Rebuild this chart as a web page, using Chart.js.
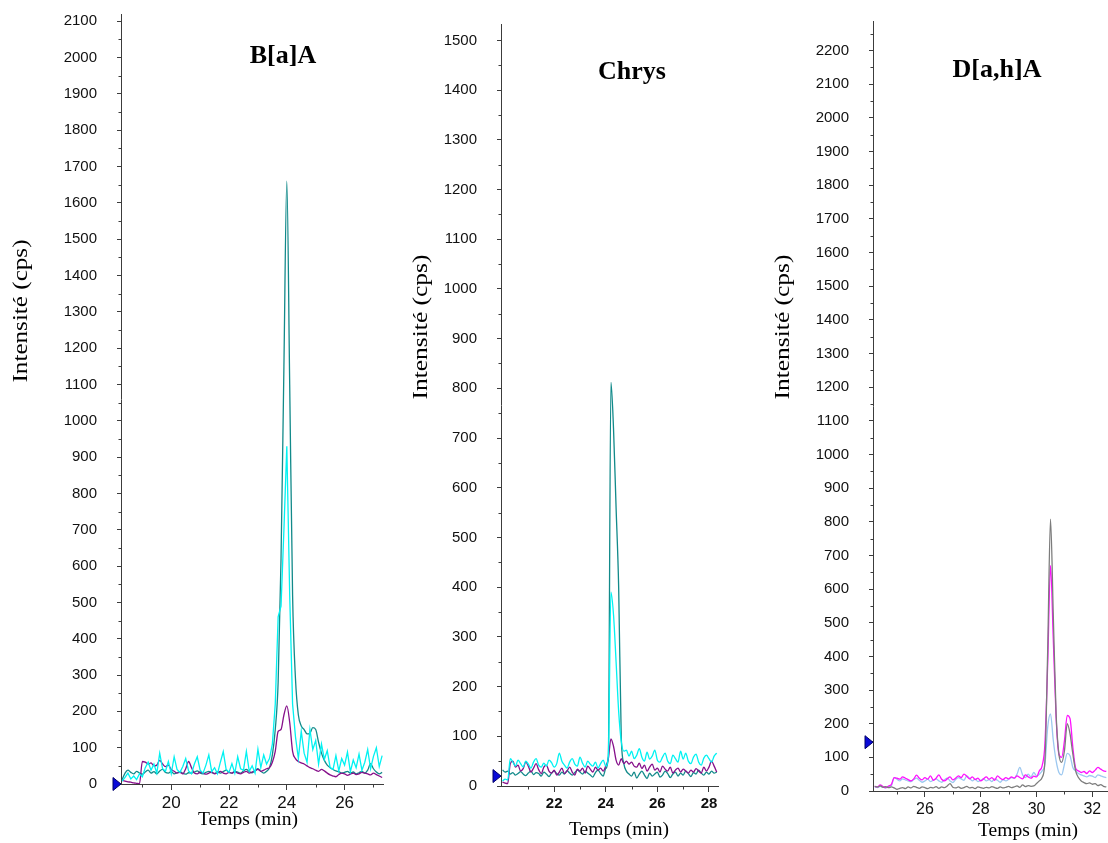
<!DOCTYPE html>
<html>
<head>
<meta charset="utf-8">
<script src="https://cdn.jsdelivr.net/npm/chart.js@4.4.1/dist/chart.umd.min.js"></script>
<style>
  html, body { margin: 0; padding: 0; background: #fff; overflow: hidden; }
  .panel { position: absolute; top: 0; }
  #c1 { left: 0; }
  #c2 { left: 400px; }
  #c3 { left: 760px; }
</style>
</head>
<body>
<canvas class="panel" id="c1" width="400" height="843"></canvas>
<canvas class="panel" id="c2" width="360" height="843"></canvas>
<canvas class="panel" id="c3" width="348" height="843"></canvas>
<script>
// sampling: one point every 0.1 min
const STEP = 0.1;

// ---- B[a]A : 18.3 .. 27.3 min
const start1 = 18.3;
const teal1 = [
  12, 30, 38, 32, 28, 35, 30, 27, 33, 38,
  30, 34, 28, 36, 40, 32, 30, 35, 28, 31,
  34, 29, 27, 31, 30, 33, 36, 30, 28, 32,
  35, 31, 29, 33, 30, 34, 38, 32, 30, 35,
  33, 30, 36, 40, 34, 31, 37, 42, 35, 30,
  35, 45, 80, 150, 280, 620, 1150, 1660, 1100, 520,
  290, 190, 160, 150, 138, 140, 155, 150, 115, 85,
  65, 52, 45, 40, 36, 34, 30, 32, 35, 30,
  33, 28, 31, 35, 30, 38, 56, 42, 33, 28,
  32
];
const cyan1 = [
  8, 18, 30, 14, 22, 12, 28, 20, 45, 60,
  38, 55, 30, 85, 42, 35, 62, 28, 75, 40,
  32, 48, 70, 36, 28, 55, 75, 38, 30, 52,
  80, 34, 45, 28, 60, 89, 40, 32, 56, 30,
  75, 42, 38, 90, 35, 50, 30, 96, 45, 80,
  55, 70, 110, 220, 460, 490, 700, 930, 520, 220,
  130, 70, 145, 85, 60, 150, 95, 120, 55, 110,
  68, 92, 45, 40, 78, 36, 70, 52, 88, 34,
  66, 45, 82, 38, 60, 95, 42, 76, 100, 48,
  78
];
const purple1 = [
  10, 8, 6, 5, 3, 2, 1, 62, 60, 55,
  58, 50, 52, 65, 55, 48, 52, 40, 35, 30,
  32, 28, 42, 62, 45, 30, 28, 33, 30, 27,
  30, 33, 28, 31, 35, 30, 28, 32, 30, 34,
  30, 28, 32, 35, 30, 33, 36, 40, 35, 38,
  42, 45, 60, 90, 145, 150, 190, 215, 170, 90,
  70, 62, 58, 55, 50, 45, 42, 38, 35, 40,
  36, 30, 25, 22, 20, 26, 30, 28, 24, 27,
  30, 26, 28, 32, 30, 28, 25, 30, 26, 22,
  18
];
const xTicks1 = [20, 22, 24, 26];
const yTicks1 = [0, 100, 200, 300, 400, 500, 600, 700, 800, 900, 1000,
  1100, 1200, 1300, 1400, 1500, 1600, 1700, 1800, 1900, 2000, 2100];

// ---- Chrys : 20.0 .. 28.3 min
const start2 = 20.0;
const teal2 = [
  32, 28, 30, 24, 27, 22, 25, 29, 24, 21,
  26, 30, 23, 27, 25, 20, 28, 24, 19, 26,
  30, 25, 22, 28, 24, 31, 26, 22, 27, 32,
  28, 24, 30, 26, 22, 18, 27, 32, 25, 20,
  35, 60, 812, 720, 560, 400, 100, 45, 30, 24,
  20, 28, 16, 24, 30, 22, 15, 26, 20, 24,
  28, 18, 22, 30, 25, 17, 24, 28, 20, 26,
  22, 30, 25, 19, 27, 24, 32, 26, 22, 28,
  24, 30, 26, 28
];
const cyan2 = [
  10, 14, 12, 55, 48, 40, 52, 45, 38, 50,
  44, 36, 48, 55, 42, 38, 46, 40, 52, 47,
  38, 45, 66, 50, 42, 36, 48, 55, 44, 40,
  58, 46, 38, 50, 44, 40, 48, 36, 45, 52,
  40, 60, 390, 345, 250, 150, 90, 70, 72, 60,
  70, 55, 62, 75, 58, 50, 68, 54, 60, 72,
  52, 48, 58, 66, 50, 45, 62, 55, 48, 70,
  54, 66, 50, 45, 58, 64, 48, 42, 56, 62,
  55, 48, 60, 66
];
const purple2 = [
  8, 6, 5, 45, 50, 38, 42, 30, 35, 48,
  40, 28, 36, 45, 33, 25, 38, 42, 30, 26,
  32, 22, 28, 36, 25, 30, 38, 28, 22, 34,
  30, 36, 26, 40, 34, 28, 38, 32, 36, 30,
  40, 55, 95, 80, 52, 42, 55, 45, 50, 44,
  48, 40, 38, 46, 35, 42, 30, 38, 44, 32,
  36, 28, 40, 34, 30, 38, 26, 32, 36, 28,
  34, 30, 26, 32, 28, 35, 30, 26, 38, 30,
  38, 50, 40, 28
];
const xTicks2 = [22, 24, 26, 28];
const yTicks2 = [0, 100, 200, 300, 400, 500, 600, 700, 800, 900, 1000,
  1100, 1200, 1300, 1400, 1500];

// ---- D[a,h]A : 24.2 .. 32.5 min
const start3 = 24.2;
const grey3 = [
  14, 12, 15, 11, 13, 10, 12, 9, 5, 8,
  10, 7, 12, 9, 14, 11, 8, 12, 10, 7,
  11, 9, 13, 8, 12, 10, 15, 22, 11, 9,
  12, 8, 10, 14, 9, 11, 7, 12, 10, 8,
  11, 9, 13, 10, 8, 12, 9, 11, 14, 10,
  12, 15, 11, 18, 13, 16, 14, 15, 22, 30,
  40, 90, 420, 808, 520, 230, 110, 85, 120, 200,
  170, 110, 60, 40, 30, 25, 22, 24, 20, 22,
  16, 19, 14, 12
];
const magenta3 = [
  14, 12, 18, 13, 10, 15, 20, 40, 38, 35,
  42, 38, 34, 30, 36, 47, 38, 33, 40, 35,
  45, 32, 38, 48, 35, 30, 36, 42, 33, 38,
  45, 40, 50, 44, 36, 42, 34, 38, 30, 36,
  42, 35, 40, 32, 45, 38, 34, 40, 36, 42,
  38, 45, 40, 36, 48, 42, 38, 44, 42, 60,
  75, 140, 380, 670, 450, 220, 110, 100, 150, 225,
  215, 130, 68, 60, 55, 58, 52, 60, 55, 62,
  70, 65, 60, 58
];
const blue3 = [
  12, 10, 14, 12, 9, 13, 16, 40, 35, 30,
  36, 33, 30, 28, 34, 38, 32, 26, 30, 35,
  28, 32, 36, 30, 26, 33, 38, 30, 25, 34,
  40, 36, 32, 45, 38, 30, 35, 28, 32, 36,
  30, 34, 28, 36, 32, 26, 34, 30, 35, 40,
  38, 50, 70, 48, 40, 50, 42, 55, 45, 50,
  60, 80, 190, 229, 150, 90, 55, 48, 80, 112,
  105, 70, 60, 52, 48, 45, 42, 46, 44, 40,
  48, 45, 42, 40
];
const xTicks3 = [26, 28, 30, 32];
const yTicks3 = [0, 100, 200, 300, 400, 500, 600, 700, 800, 900, 1000,
  1100, 1200, 1300, 1400, 1500, 1600, 1700, 1800, 1900, 2000, 2100, 2200];

// threshold markers (blue arrows on the y axis)
const markers = [0, 20, 145];

const axisColor = '#3c3c3c';

function timesFor(start, n) {
  const t = [];
  for (let i = 0; i < n; i++) t.push(Math.round((start + i * STEP) * 100) / 100);
  return t;
}

// small unlabeled ticks halfway between the labeled ones
const minorTicks = {
  id: 'minorTicks',
  afterDraw(chart) {
    const { ctx, chartArea, scales } = chart;
    ctx.save();
    ctx.strokeStyle = axisColor;
    ctx.lineWidth = 1;
    ctx.beginPath();
    ['x', 'y'].forEach(id => {
      const s = scales[id];
      const vals = s.ticks.map(t => t.value);
      const step = vals[1] - vals[0];
      for (let v = vals[0] - step / 2; v <= s.max + 1e-9; v += step) {
        if (v < s.min) continue;
        const p = Math.round(s.getPixelForValue(v)) + 0.5;
        if (id === 'x') {
          ctx.moveTo(p, chartArea.bottom);
          ctx.lineTo(p, chartArea.bottom + 3.5);
        } else {
          ctx.moveTo(chartArea.left - 2.5, p);
          ctx.lineTo(chartArea.left, p);
        }
      }
    });
    ctx.stroke();
    ctx.restore();
  }
};

// blue arrow on the y axis at the threshold value
const markerArrow = {
  id: 'markerArrow',
  afterDraw(chart, args, o) {
    const { ctx, chartArea } = chart;
    const y = chart.scales.y.getPixelForValue(o.value);
    const x = chartArea.left;
    ctx.save();
    ctx.beginPath();
    ctx.moveTo(x, y);
    ctx.lineTo(x - 8, y - 6.5);
    ctx.lineTo(x - 8, y + 6.5);
    ctx.closePath();
    ctx.fillStyle = '#0a0ad8';
    ctx.strokeStyle = '#00006a';
    ctx.lineWidth = 1;
    ctx.fill();
    ctx.stroke();
    ctx.restore();
  }
};

// panel name and axis titles
const panelText = {
  id: 'panelText',
  afterDraw(chart, args, o) {
    const ctx = chart.ctx;
    ctx.save();
    ctx.fillStyle = '#000';
    ctx.textAlign = 'center';
    ctx.textBaseline = 'alphabetic';
    ctx.font = 'bold 26px "Liberation Serif"';
    ctx.fillText(o.name, o.nameX, o.nameY);
    ctx.font = '19.5px "Liberation Serif"';
    ctx.fillText('Temps (min)', o.xTitleX, o.xTitleY);
    const label = 'Intensité (cps)';
    ctx.font = '20px "Liberation Serif"';
    const w = ctx.measureText(label).width;
    ctx.translate(o.yTitleX, o.yTitleY);
    ctx.rotate(-Math.PI / 2);
    ctx.scale(o.yTitleLen / w, 1);
    ctx.fillText(label, 0, 0);
    ctx.restore();
  }
};

function makePanel(id, p) {
  const times = timesFor(p.start, p.series[0].values.length);
  const datasets = p.series.map(s => ({
    data: s.values.map((v, i) => ({ x: times[i], y: v })),
    borderColor: s.color,
    borderWidth: 1.3,
    pointRadius: 0,
    cubicInterpolationMode: s.jagged ? 'default' : 'monotone',
    tension: 0,
    fill: false
  }));

  return new Chart(document.getElementById(id), {
    type: 'line',
    data: { datasets },
    options: {
      responsive: false,
      animation: false,
      events: [],
      layout: { padding: p.padding, autoPadding: false },
      plugins: {
        legend: { display: false },
        tooltip: { enabled: false },
        markerArrow: { value: p.marker },
        panelText: p.text
      },
      scales: {
        x: {
          type: 'linear',
          min: p.xMin,
          max: p.xMax,
          afterFit: s => {
            s.height = p.xHeight;
            s.paddingLeft = 0;
            s.paddingRight = 0;
          },
          afterBuildTicks: s => { s.ticks = p.xTicks.map(v => ({ value: v })); },
          grid: { drawOnChartArea: false, tickLength: 6, color: axisColor },
          border: { color: axisColor },
          ticks: {
            autoSkip: false,
            maxRotation: 0,
            padding: 3,
            color: '#111',
            font: { family: '"Liberation Sans", Arial', size: p.xFont, weight: p.xWeight },
            callback: v => String(v)
          }
        },
        y: {
          type: 'linear',
          min: 0,
          max: p.yMax,
          afterFit: s => {
            s.width = p.yWidth;
            s.paddingTop = 0;
            s.paddingBottom = 0;
          },
          afterBuildTicks: s => { s.ticks = p.yTicks.map(v => ({ value: v })); },
          grid: { drawOnChartArea: false, tickLength: 4, color: axisColor },
          border: { color: axisColor },
          ticks: {
            autoSkip: false,
            padding: 20,
            color: '#111',
            font: { family: '"Liberation Sans", Arial', size: 15 },
            callback: v => String(v)
          }
        }
      }
    },
    plugins: [minorTicks, markerArrow, panelText]
  });
}

makePanel('c1', {
  start: start1,
  series: [
    { values: cyan1, color: '#00f2f2', jagged: true },
    { values: purple1, color: '#86108a' },
    { values: teal1, color: '#128a8a' }
  ],
  marker: markers[0],
  xMin: 18.26, xMax: 27.33, yMax: 2120,
  xTicks: xTicks1, yTicks: yTicks1,
  xFont: 17, xWeight: 'normal',
  padding: { top: 14, right: 17, left: 0, bottom: 0 },
  yWidth: 121, xHeight: 59,
  text: { name: 'B[a]A', nameX: 283, nameY: 63, xTitleX: 248, xTitleY: 825,
          yTitleX: 27, yTitleY: 311, yTitleLen: 143 }
});

makePanel('c2', {
  start: start2,
  series: [
    { values: cyan2, color: '#00f2f2' },
    { values: purple2, color: '#86108a' },
    { values: teal2, color: '#128a8a' }
  ],
  marker: markers[1],
  xMin: 19.94, xMax: 28.35, yMax: 1533,
  xTicks: xTicks2, yTicks: yTicks2,
  xFont: 15, xWeight: 'bold',
  padding: { top: 24, right: 42, left: 0, bottom: 0 },
  yWidth: 101, xHeight: 57,
  text: { name: 'Chrys', nameX: 232, nameY: 79, xTitleX: 219, xTitleY: 835,
          yTitleX: 27, yTitleY: 327, yTitleLen: 145 }
});

makePanel('c3', {
  start: start3,
  series: [
    { values: grey3, color: '#7c7c7c' },
    { values: magenta3, color: '#ff10ff' },
    { values: blue3, color: '#9cc8f0' }
  ],
  marker: markers[2],
  xMin: 24.14, xMax: 32.56, yMax: 2288,
  xTicks: xTicks3, yTicks: yTicks3,
  xFont: 16, xWeight: 'normal',
  padding: { top: 21, right: 0, left: 0, bottom: 0 },
  yWidth: 113, xHeight: 52,
  text: { name: 'D[a,h]A', nameX: 237, nameY: 77, xTitleX: 268, xTitleY: 836,
          yTitleX: 29, yTitleY: 327, yTitleLen: 145 }
});
</script>
</body>
</html>
